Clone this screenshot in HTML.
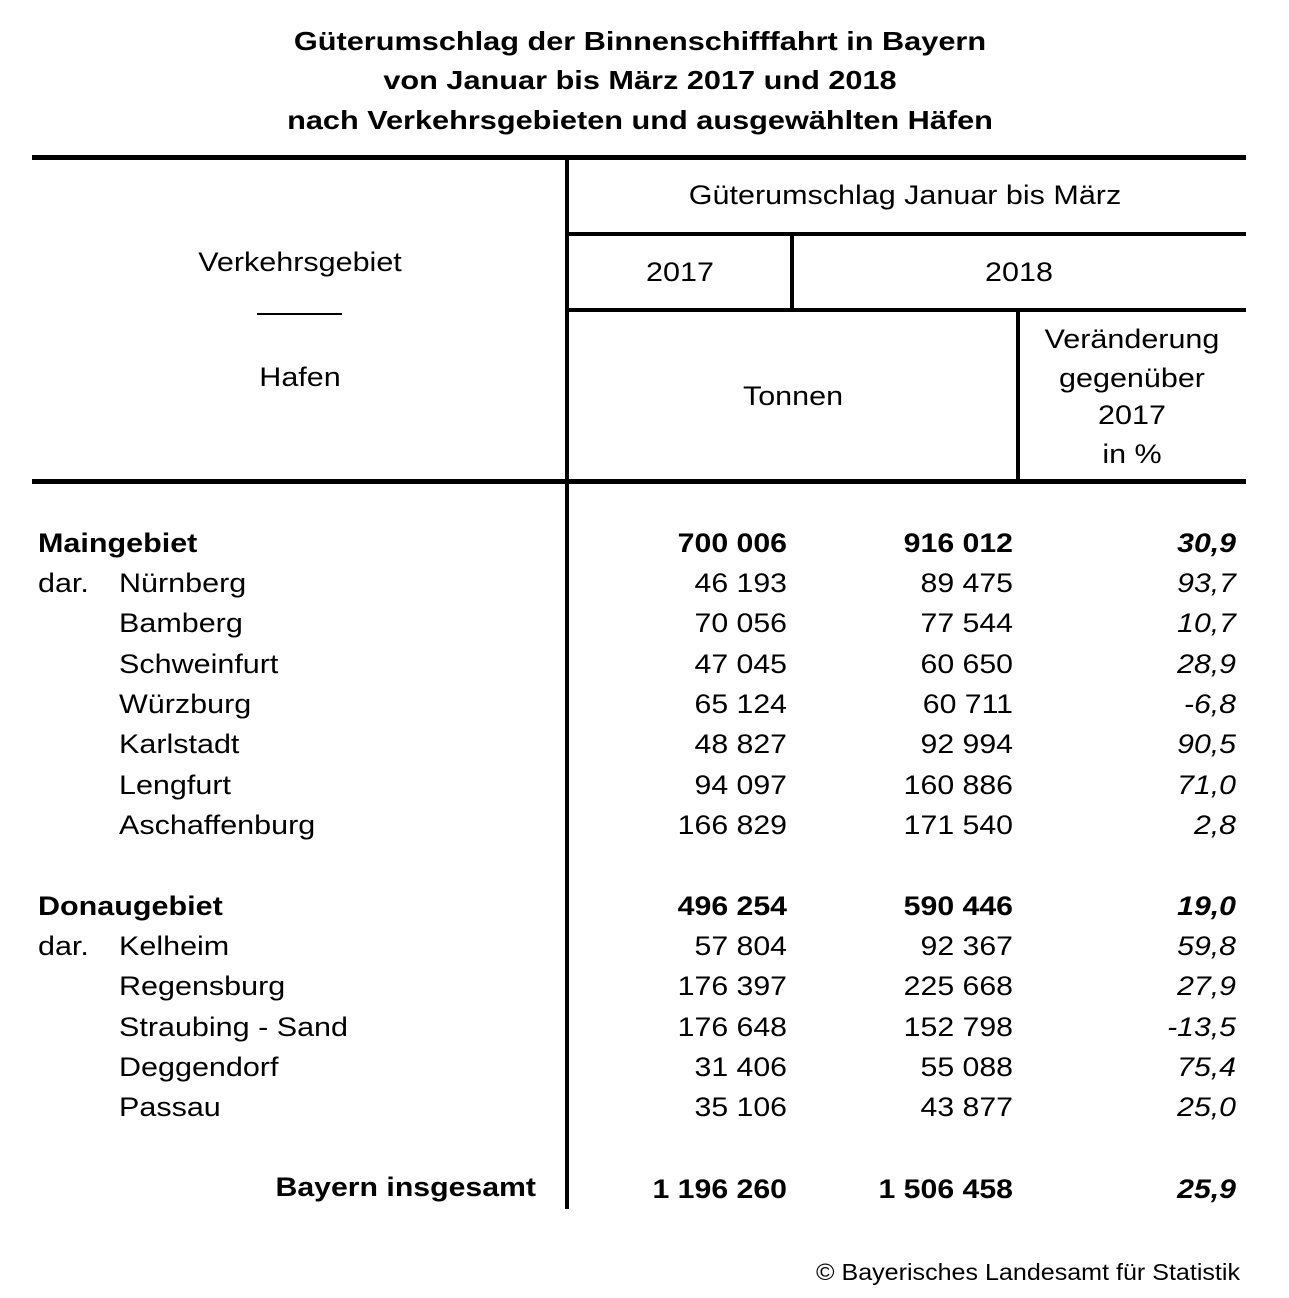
<!DOCTYPE html>
<html><head><meta charset="utf-8"><style>
body{margin:0;width:1289px;height:1298px;background:#fff;position:relative;font-family:"Liberation Sans",Arial,sans-serif;color:#000;overflow:hidden}
.t{position:absolute;font-size:27px;line-height:30px;white-space:nowrap;transform:scaleX(1.13);transform-origin:left center}
.c{transform:translateX(-50%) scaleX(1.13);transform-origin:center center}
.r{transform:translateX(-100%) scaleX(1.12);transform-origin:right center}
.b{font-weight:bold}
.i{font-style:italic}
.tt{transform:translateX(-50%) scaleX(1.18)}
.h{position:absolute;background:#000}
</style></head><body>
<div class="t b c tt" style="left:640px;top:26px;font-size:26px">Güterumschlag der Binnenschifffahrt in Bayern</div>
<div class="t b c tt" style="left:640px;top:65px;font-size:26px">von Januar bis März 2017 und 2018</div>
<div class="t b c tt" style="left:640px;top:105px;font-size:26px">nach Verkehrsgebieten und ausgewählten Häfen</div>

<div class="h" style="left:32px;top:155px;width:1214px;height:5px"></div>
<div class="h" style="left:565px;top:157px;width:4px;height:1052px"></div>
<div class="h" style="left:567px;top:232px;width:679px;height:4px"></div>
<div class="h" style="left:790px;top:234px;width:4px;height:76px"></div>
<div class="h" style="left:567px;top:308px;width:679px;height:4px"></div>
<div class="h" style="left:1016px;top:310px;width:4px;height:171px"></div>
<div class="h" style="left:32px;top:479px;width:1214px;height:5px"></div>
<div class="h" style="left:257px;top:313px;width:85px;height:2px"></div>

<div class="t c" style="left:905px;top:180px">Güterumschlag Januar bis März</div>
<div class="t c" style="left:680px;top:257px">2017</div>
<div class="t c" style="left:1019px;top:257px">2018</div>
<div class="t c" style="left:300px;top:247px">Verkehrsgebiet</div>
<div class="t c" style="left:300px;top:362px">Hafen</div>
<div class="t c" style="left:793px;top:381px">Tonnen</div>
<div class="t c" style="left:1132px;top:324px">Veränderung</div>
<div class="t c" style="left:1132px;top:363px">gegenüber</div>
<div class="t c" style="left:1132px;top:400px">2017</div>
<div class="t c" style="left:1132px;top:439px">in %</div>

<div class="t b" style="left:38px;top:528px">Maingebiet</div>
<div class="t b r" style="left:787px;top:528px">700 006</div><div class="t b r" style="left:1013px;top:528px">916 012</div><div class="t b i r" style="left:1236px;top:528px">30,9</div>
<div class="t" style="left:38px;top:568px">dar.</div>
<div class="t" style="left:119px;top:568px">Nürnberg</div><div class="t r" style="left:787px;top:568px">46 193</div><div class="t r" style="left:1013px;top:568px">89 475</div><div class="t i r" style="left:1236px;top:568px">93,7</div>
<div class="t" style="left:119px;top:608px">Bamberg</div><div class="t r" style="left:787px;top:608px">70 056</div><div class="t r" style="left:1013px;top:608px">77 544</div><div class="t i r" style="left:1236px;top:608px">10,7</div>
<div class="t" style="left:119px;top:649px">Schweinfurt</div><div class="t r" style="left:787px;top:649px">47 045</div><div class="t r" style="left:1013px;top:649px">60 650</div><div class="t i r" style="left:1236px;top:649px">28,9</div>
<div class="t" style="left:119px;top:689px">Würzburg</div><div class="t r" style="left:787px;top:689px">65 124</div><div class="t r" style="left:1013px;top:689px">60 711</div><div class="t i r" style="left:1236px;top:689px">-6,8</div>
<div class="t" style="left:119px;top:729px">Karlstadt</div><div class="t r" style="left:787px;top:729px">48 827</div><div class="t r" style="left:1013px;top:729px">92 994</div><div class="t i r" style="left:1236px;top:729px">90,5</div>
<div class="t" style="left:119px;top:770px">Lengfurt</div><div class="t r" style="left:787px;top:770px">94 097</div><div class="t r" style="left:1013px;top:770px">160 886</div><div class="t i r" style="left:1236px;top:770px">71,0</div>
<div class="t" style="left:119px;top:810px">Aschaffenburg</div><div class="t r" style="left:787px;top:810px">166 829</div><div class="t r" style="left:1013px;top:810px">171 540</div><div class="t i r" style="left:1236px;top:810px">2,8</div>

<div class="t b" style="left:38px;top:891px">Donaugebiet</div>
<div class="t b r" style="left:787px;top:891px">496 254</div><div class="t b r" style="left:1013px;top:891px">590 446</div><div class="t b i r" style="left:1236px;top:891px">19,0</div>
<div class="t" style="left:38px;top:931px">dar.</div>
<div class="t" style="left:119px;top:931px">Kelheim</div><div class="t r" style="left:787px;top:931px">57 804</div><div class="t r" style="left:1013px;top:931px">92 367</div><div class="t i r" style="left:1236px;top:931px">59,8</div>
<div class="t" style="left:119px;top:971px">Regensburg</div><div class="t r" style="left:787px;top:971px">176 397</div><div class="t r" style="left:1013px;top:971px">225 668</div><div class="t i r" style="left:1236px;top:971px">27,9</div>
<div class="t" style="left:119px;top:1012px">Straubing - Sand</div><div class="t r" style="left:787px;top:1012px">176 648</div><div class="t r" style="left:1013px;top:1012px">152 798</div><div class="t i r" style="left:1236px;top:1012px">-13,5</div>
<div class="t" style="left:119px;top:1052px">Deggendorf</div><div class="t r" style="left:787px;top:1052px">31 406</div><div class="t r" style="left:1013px;top:1052px">55 088</div><div class="t i r" style="left:1236px;top:1052px">75,4</div>
<div class="t" style="left:119px;top:1092px">Passau</div><div class="t r" style="left:787px;top:1092px">35 106</div><div class="t r" style="left:1013px;top:1092px">43 877</div><div class="t i r" style="left:1236px;top:1092px">25,0</div>

<div class="t b r" style="left:536px;top:1172px">Bayern insgesamt</div>
<div class="t b r" style="left:787px;top:1174px">1 196 260</div><div class="t b r" style="left:1013px;top:1174px">1 506 458</div><div class="t b i r" style="left:1236px;top:1174px">25,9</div>

<div class="t r" style="left:1240px;top:1257px;font-size:23px;transform:translateX(-100%) scaleX(1.09)">© Bayerisches Landesamt für Statistik</div>
</body></html>
